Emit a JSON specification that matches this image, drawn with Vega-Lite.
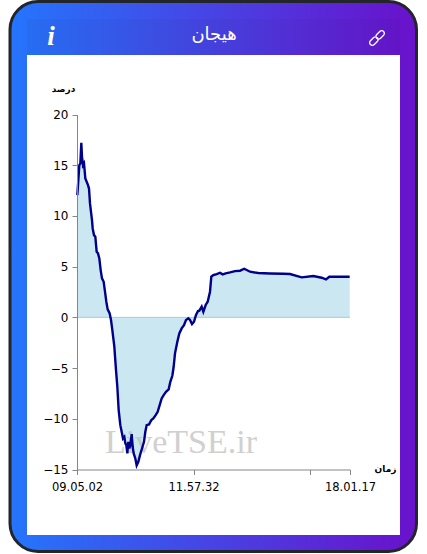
{"$schema":"https://vega.github.io/schema/vega-lite/v6.json","width":427,"height":554,"padding":0,"autosize":{"type":"none"},"background":"white","config":{"view":{"stroke":null}},
"data":{"values":[
{"n":0.33,"pct":12.05},{"n":1.33,"pct":13.53},{"n":2.33,"pct":15.0},{"n":3.33,"pct":15.17},{"n":4.33,"pct":17.2},{"n":5,"pct":15.83},{"n":6,"pct":15.0},{"n":7,"pct":15.17},{"n":8.33,"pct":13.7},{"n":9.67,"pct":13.37},{"n":11,"pct":13.04},{"n":12,"pct":12.7},{"n":13,"pct":11.23},{"n":14,"pct":10.41},{"n":15,"pct":9.59},{"n":15.67,"pct":8.77},{"n":17,"pct":8.11},{"n":18.33,"pct":7.95},{"n":19.67,"pct":6.47},{"n":21,"pct":6.31},{"n":22.33,"pct":5.81},{"n":23.67,"pct":4.66},{"n":25,"pct":3.84},{"n":26.67,"pct":3.51},{"n":28,"pct":2.53},{"n":29.33,"pct":1.54},{"n":30.67,"pct":0.79},{"n":32.67,"pct":0.39},{"n":34,"pct":-0.26},{"n":35.33,"pct":-1.25},{"n":37.33,"pct":-2.89},{"n":39,"pct":-5.2},{"n":40.33,"pct":-6.84},{"n":41.67,"pct":-9.14},{"n":43.33,"pct":-10.63},{"n":44.67,"pct":-11.28},{"n":46,"pct":-11.94},{"n":47.33,"pct":-11.78},{"n":48.33,"pct":-12.43},{"n":49.33,"pct":-12.6},{"n":50.33,"pct":-13.42},{"n":51.33,"pct":-12.27},{"n":52.33,"pct":-12.93},{"n":53.33,"pct":-12.6},{"n":54.67,"pct":-11.51},{"n":55.67,"pct":-12.76},{"n":56.67,"pct":-13.42},{"n":58.33,"pct":-13.91},{"n":59.67,"pct":-14.6},{"n":61.33,"pct":-14.24},{"n":63,"pct":-13.58},{"n":65,"pct":-12.93},{"n":67,"pct":-12.27},{"n":68.33,"pct":-11.28},{"n":69.67,"pct":-10.63},{"n":72,"pct":-10.56},{"n":74.33,"pct":-10.13},{"n":76.33,"pct":-9.97},{"n":78.67,"pct":-9.64},{"n":80.67,"pct":-9.31},{"n":82.67,"pct":-8.65},{"n":84.67,"pct":-7.99},{"n":86.67,"pct":-7.66},{"n":89,"pct":-7.34},{"n":91.67,"pct":-7.1},{"n":93.33,"pct":-6.35},{"n":95.33,"pct":-5.76},{"n":96.67,"pct":-4.87},{"n":98,"pct":-3.55},{"n":100.33,"pct":-2.4},{"n":102.33,"pct":-1.58},{"n":104.67,"pct":-1.09},{"n":107,"pct":-0.76},{"n":109,"pct":-0.26},{"n":111.33,"pct":-0.1},{"n":113,"pct":-0.26},{"n":115,"pct":-0.66},{"n":117,"pct":-0.43},{"n":119,"pct":0.23},{"n":121,"pct":0.62},{"n":122.33,"pct":0.66},{"n":124.67,"pct":1.05},{"n":126.33,"pct":0.56},{"n":128.67,"pct":1.22},{"n":130.67,"pct":1.54},{"n":133,"pct":2.53},{"n":134.33,"pct":4.01},{"n":136.33,"pct":4.17},{"n":139.67,"pct":4.27},{"n":143,"pct":4.4},{"n":145.67,"pct":4.24},{"n":148.67,"pct":4.33},{"n":153,"pct":4.43},{"n":158,"pct":4.56},{"n":163,"pct":4.6},{"n":167.33,"pct":4.79},{"n":173,"pct":4.5},{"n":181.33,"pct":4.37},{"n":193,"pct":4.33},{"n":206.33,"pct":4.3},{"n":213,"pct":4.27},{"n":224.67,"pct":3.94},{"n":236.33,"pct":4.07},{"n":244.67,"pct":3.91},{"n":249,"pct":3.74},{"n":252.33,"pct":4.0},{"n":263,"pct":4.0},{"n":272.67,"pct":4.0}
]},
"layer":[
{"data":{"values":[{}]},"mark":{"type":"rect","cornerRadius":28,"stroke":"#22262b","strokeWidth":3,"fill":{"gradient":"linear","x1":0,"y1":0,"x2":1,"y2":0,"stops":[{"offset":0,"color":"#2575fc"},{"offset":1,"color":"#6a11cb"}]}},"encoding":{"x":{"value":10},"x2":{"value":416.5},"y":{"value":1.5},"y2":{"value":551.5}}},
{"data":{"values":[{}]},"mark":{"type":"rect","fill":"black","opacity":0.03},"encoding":{"x":{"value":27},"x2":{"value":400},"y":{"value":19},"y2":{"value":55}}},
{"data":{"values":[{}]},"mark":{"type":"rect","fill":"white"},"encoding":{"x":{"value":27},"x2":{"value":400},"y":{"value":55},"y2":{"value":535}}},
{"mark":{"type":"area","color":"#cae7f2","clip":false},"encoding":{
"x":{"field":"n","type":"quantitative","scale":{"domain":[0,273],"range":[77,350],"nice":false,"zero":false},"axis":{"orient":"bottom","offset":-84.5,"zindex":1,"values":[0,116.5,233,273],"labelExpr":"datum.value==0?'09.05.02':datum.value==116.5?'11.57.32':datum.value==273?'18.01.17':''","labelOverlap":false,"labelBound":false,"labelFlush":false,"labelFont":"DejaVu Sans","labelFontSize":11.5,"labelColor":"#000","labelPadding":7,"domainColor":"#868686","tickColor":"#868686","tickSize":5,"grid":false,"title":"زمان","titleFont":"DejaVu Sans","titleFontSize":9,"titleFontWeight":"bold","titleColor":"#000","titleX":385,"titleY":-1,"titleAlign":"center","titleBaseline":"middle"}},
"y":{"field":"pct","type":"quantitative","scale":{"domain":[-15,20],"range":[469.5,114.5],"nice":false,"zero":false},"axis":{"orient":"left","offset":-77,"zindex":1,"values":[-15,-10,-5,0,5,10,15,20],"labelFont":"DejaVu Sans","labelFontSize":12,"labelColor":"#000","labelPadding":4,"labelFlush":false,"domainColor":"#868686","tickColor":"#868686","tickSize":5,"grid":false,"title":"درصد","titleFont":"DejaVu Sans","titleFontSize":9,"titleFontWeight":"bold","titleColor":"#000","titleAngle":0,"titleX":-14,"titleY":88,"titleAlign":"center","titleBaseline":"middle"}},
"y2":{"datum":0}}},
{"data":{"values":[{"from":0,"to":273,"level":0}]},"mark":{"type":"rule","color":"#a9ccd9","strokeWidth":1},"encoding":{"x":{"field":"from","type":"quantitative"},"x2":{"field":"to"},"y":{"field":"level","type":"quantitative"}}},
{"data":{"values":[{"n":28,"pct":-13.4,"label":"LiveTSE.ir"}]},"mark":{"type":"text","font":"Liberation Serif","fontSize":34,"align":"left","baseline":"alphabetic","color":"#bdbdbd","opacity":0.7},"encoding":{"x":{"field":"n","type":"quantitative"},"y":{"field":"pct","type":"quantitative"},"text":{"field":"label"}}},
{"mark":{"type":"line","color":"#00008b","strokeWidth":2.4,"clip":false},"encoding":{"x":{"field":"n","type":"quantitative"},"y":{"field":"pct","type":"quantitative"}}},
{"data":{"values":[{"label":"هیجان"}]},"mark":{"type":"text","font":"DejaVu Sans","fontSize":18,"color":"white","align":"center","baseline":"middle"},"encoding":{"x":{"value":214},"y":{"value":35},"text":{"field":"label"}}},
{"data":{"values":[{"label":"i"}]},"mark":{"type":"text","font":"Liberation Serif","fontStyle":"italic","fontWeight":"bold","fontSize":27,"color":"white","align":"center","baseline":"middle"},"encoding":{"x":{"value":51},"y":{"value":37},"text":{"field":"label"}}},
{"data":{"values":[{"icon":"link"}]},"mark":{"type":"point","shape":"M0.365,-0.875 A0.36,0.36 0 0 1 0.875,-0.365 L0.475,0.035 A0.36,0.36 0 0 1 -0.035,-0.475 Z M-0.365,0.875 A0.36,0.36 0 0 1 -0.875,0.365 L-0.475,-0.035 A0.36,0.36 0 0 1 0.035,0.475 Z","size":225,"filled":false,"stroke":"white","strokeWidth":1.3,"opacity":1},"encoding":{"x":{"value":377},"y":{"value":38}}}
]}
